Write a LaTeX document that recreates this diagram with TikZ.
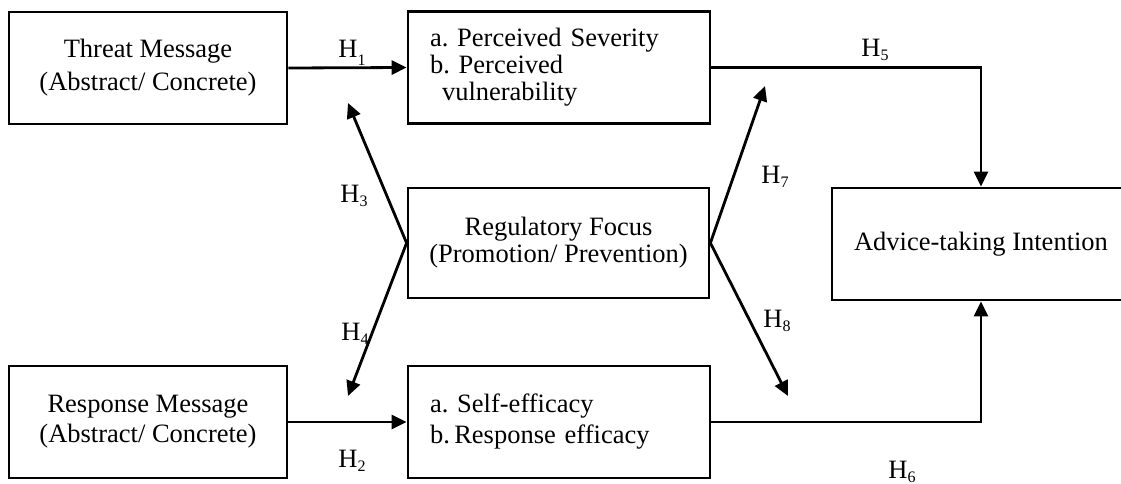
\documentclass[tikz,border=0pt]{standalone}
\usepackage{fontspec}
\setmainfont{Liberation Serif}
\usetikzlibrary{arrows.meta}
\frenchspacing
\newcommand{\hsub}[1]{H\raisebox{-4pt}{\fontsize{16}{16}\selectfont #1}}
\begin{document}
\begin{tikzpicture}[x=1pt,y=-1pt,
  box/.style={draw,line width=2.8pt,inner sep=0pt,minimum height=112pt,font=\fontsize{26.5}{33}\selectfont},
  listbox/.style={box,align=left,text width=258pt,inner xsep=22pt},
  arr/.style={line width=2.8pt,-{Triangle[length=15pt,width=14pt]}},
  hyp/.style={inner sep=0pt,font=\fontsize{26.5}{30}\selectfont}]
\useasboundingbox (0,0) rectangle (1121,484);
% boxes
\node[box,minimum width=278pt,align=center] (threat) at (148,68) {Threat Message\\(Abstract/ Concrete)};
\node[box,minimum width=278pt,align=center,font=\fontsize{26.5}{30}\selectfont] (resp) at (148,422) {Response Message\\(Abstract/ Concrete)};
\node[listbox,font=\fontsize{26.5}{27}\selectfont] (sev) at (559,67.5) {a. Perceived Severity\\b. Perceived\\\hspace*{12pt}vulnerability};
\node[box,minimum width=301pt,minimum height=110pt,align=center,font=\fontsize{26.5}{27}\selectfont] (reg) at (558.5,243) {Regulatory Focus\\(Promotion/ Prevention)};
\node[listbox,font=\fontsize{26.5}{31}\selectfont] (se) at (559,422) {a. Self-efficacy\\b.\,Response efficacy};
\node[box,minimum width=298pt] (advice) at (981,244) {Advice-taking Intention};
% free ends of the moderator arrows
\coordinate (h3end) at (348,103);
\coordinate (h4end) at (348,396);
\coordinate (h7end) at (765,86);
\coordinate (h8end) at (788,396);
% connectors
\draw[arr] (threat.east) -- (sev.west);
\draw[arr] (resp.east) -- (se.west);
\draw[arr] (sev.east) -| (advice.north);
\draw[arr] (se.east) -| (advice.south);
\draw[arr] (reg.west) -- (h3end);
\draw[arr] (reg.west) -- (h4end);
\draw[arr] (reg.east) -- (h7end);
\draw[arr] (reg.east) -- (h8end);
% hypotheses
\node[hyp] (h1) at (352,53) {H\raisebox{-8pt}{\fontsize{16}{16}\selectfont 1}};
\node[hyp] (h2) at (352,461) {\hsub{2}};
\node[hyp] (h3) at (354,196) {\hsub{3}};
\node[hyp] (h4) at (355,334) {\hsub{4}};
\node[hyp] (h5) at (875,50) {\hsub{5}};
\node[hyp] (h6) at (902,472) {\hsub{6}};
\node[hyp] (h7) at (775,177) {\hsub{7}};
\node[hyp] (h8) at (777,321) {\hsub{8}};
\end{tikzpicture}
\end{document}
